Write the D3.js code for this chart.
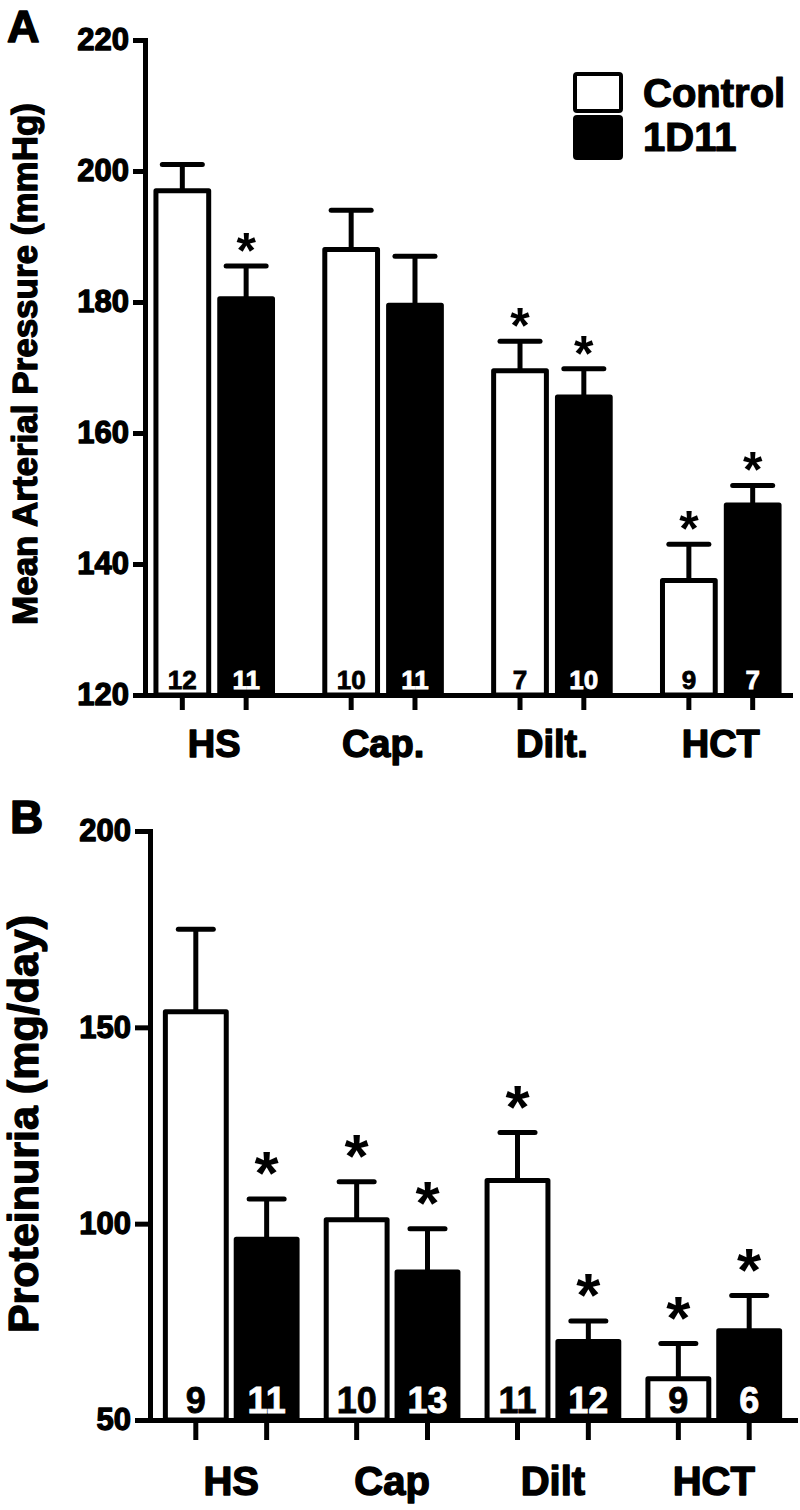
<!DOCTYPE html>
<html>
<head>
<meta charset="utf-8">
<script src="https://cdn.jsdelivr.net/npm/d3@7"></script>
<style>
  body { margin: 0; background: #fff; }
  svg { display: block; }
  text { font-family: "Liberation Sans", Arial, Helvetica, sans-serif; font-weight: bold; fill: #000; }
</style>
</head>
<body>
<div id="chart"></div>
<script>
// ---- data ----
var seriesNames = ["Control", "1D11"];

// panel A: mean arterial pressure (mmHg)
var groupsA = ["HS", "Cap.", "Dilt.", "HCT"];
var mapControl = [197, 188, 169.5, 137.5];
var mapControlSem = [4, 6, 4.5, 5.5];
var map1D11 = [180.5, 179.5, 165.5, 149];
var map1D11Sem = [5, 7.5, 4.3, 3];
var mapNControl = [12, 10, 7, 9];
var mapN1D11 = [11, 11, 10, 7];
var mapSigControl = [false, false, true, true];
var mapSig1D11 = [true, false, true, true];
var ticksA = [120, 140, 160, 180, 200, 220];

// panel B: proteinuria (mg/day)
var groupsB = ["HS", "Cap", "Dilt", "HCT"];
var protControl = [154, 101, 111, 60.5];
var protControlSem = [21, 9.7, 12.2, 9];
var prot1D11 = [96, 87.7, 70, 72.7];
var prot1D11Sem = [10.3, 11, 5.2, 9];
var protNControl = [9, 10, 11, 9];
var protN1D11 = [11, 13, 12, 6];
var protSigControl = [false, true, true, true];
var protSig1D11 = [true, true, true, true];
var ticksB = [50, 100, 150, 200];

var svg = d3.select("#chart").append("svg")
  .attr("width", 800)
  .attr("height", 1510);

function buildRows(groups, ctrl, ctrlSem, trt, trtSem, nCtrl, nTrt, sigCtrl, sigTrt) {
  var rows = [];
  groups.forEach(function(g, i) {
    rows.push({group: g, series: "Control", v: ctrl[i], sem: ctrlSem[i], n: nCtrl[i], sig: sigCtrl[i]});
    rows.push({group: g, series: "1D11", v: trt[i], sem: trtSem[i], n: nTrt[i], sig: sigTrt[i]});
  });
  return rows;
}

// heavier lettering like the original figure
function heavy(sel, color, w) {
  return sel.style("stroke", color || "#000")
    .style("stroke-width", (w || 1.2) + "px")
    .style("stroke-linejoin", "round");
}

function drawPanel(o) {
  var g = svg.append("g");
  var sw = 5;

  var y = d3.scaleLinear().domain(o.yDomain).range([o.yBottom, o.yTop]);
  var x0 = d3.scaleBand().domain(o.groups).range([o.xLeft, o.xRight])
    .paddingInner(o.padInner).paddingOuter(o.padOuter);
  var x1 = d3.scaleBand().domain(seriesNames).range([0, x0.bandwidth()])
    .paddingInner(o.subPad);

  var cx = function(d) { return x0(d.group) + x1(d.series) + x1.bandwidth() / 2; };

  // bars
  g.selectAll("rect.bar").data(o.rows).enter().append("rect")
    .attr("class", "bar")
    .attr("x", function(d) { return x0(d.group) + x1(d.series) + sw / 2; })
    .attr("width", x1.bandwidth() - sw)
    .attr("y", function(d) { return y(d.v); })
    .attr("height", function(d) { return y(o.yDomain[0]) - y(d.v); })
    .attr("fill", function(d) { return d.series === "Control" ? "#fff" : "#000"; })
    .attr("stroke", "#000")
    .attr("stroke-width", sw)
    .attr("stroke-linejoin", "round");

  // error bars (upper only)
  g.selectAll("line.err").data(o.rows).enter().append("line")
    .attr("class", "err")
    .attr("x1", cx).attr("x2", cx)
    .attr("y1", function(d) { return y(d.v); })
    .attr("y2", function(d) { return y(d.v + d.sem); })
    .attr("stroke", "#000").attr("stroke-width", sw);
  g.selectAll("line.cap").data(o.rows).enter().append("line")
    .attr("class", "cap")
    .attr("x1", function(d) { return cx(d) - o.capW / 2; })
    .attr("x2", function(d) { return cx(d) + o.capW / 2; })
    .attr("y1", function(d) { return y(d.v + d.sem); })
    .attr("y2", function(d) { return y(d.v + d.sem); })
    .attr("stroke", "#000").attr("stroke-width", sw)
    .attr("stroke-linecap", "round");

  // significance stars
  g.selectAll("text.star").data(o.rows.filter(function(d) { return d.sig; })).enter().append("text")
    .attr("class", "star")
    .attr("x", cx)
    .attr("y", function(d) { return y(d.v + d.sem) - o.starGap + o.starSize * 0.62; })
    .attr("text-anchor", "middle")
    .style("font-size", o.starSize + "px")
    .text("*");

  // n per bar
  var nt = g.selectAll("text.n").data(o.rows).enter().append("text")
    .attr("class", "n")
    .attr("x", cx)
    .attr("y", o.nBase)
    .attr("text-anchor", "middle")
    .style("font-size", o.nSize + "px")
    .style("fill", function(d) { return d.series === "Control" ? "#000" : "#fff"; })
    .text(function(d) { return d.n; });
  nt.style("stroke", function(d) { return d.series === "Control" ? "#000" : "#fff"; })
    .style("stroke-width", "0.8px");

  // y axis
  var yAxis = d3.axisLeft(y).tickValues(o.ticks).tickSize(o.tickLen).tickSizeOuter(0).tickPadding(4);
  var ya = g.append("g")
    .attr("transform", "translate(" + o.xLeft + ",0)")
    .call(yAxis);
  ya.select(".domain").attr("stroke-width", sw).attr("stroke-linecap", "square");
  ya.selectAll(".tick line").attr("stroke-width", sw);
  heavy(ya.selectAll(".tick text")
    .style("font-family", "'Liberation Sans', Arial, sans-serif")
    .style("font-weight", "bold")
    .style("font-size", o.tickSize + "px"), "#000", 1.3);

  // x axis with category labels
  var xAxis = d3.axisBottom(x0).tickSize(0).tickSizeOuter(0);
  var xa = g.append("g")
    .attr("transform", "translate(0," + o.yBottom + ")")
    .call(xAxis);
  xa.select(".domain").attr("stroke-width", sw).attr("stroke-linecap", "square");
  heavy(xa.selectAll(".tick text")
    .attr("y", o.catOffset).attr("dy", 0)
    .style("font-family", "'Liberation Sans', Arial, sans-serif")
    .style("font-weight", "bold")
    .style("font-size", o.catSize + "px"), "#000", 1.4);

  // tick marks under each bar
  g.selectAll("line.xtick").data(o.rows).enter().append("line")
    .attr("class", "xtick")
    .attr("x1", cx).attr("x2", cx)
    .attr("y1", o.yBottom).attr("y2", o.yBottom + o.xTickLen)
    .attr("stroke", "#000").attr("stroke-width", sw);

  // y title
  heavy(svg.append("text")
    .attr("transform", "translate(" + o.titleX + "," + o.titleY + ") rotate(-90)")
    .attr("text-anchor", "middle")
    .style("font-size", o.titleSize + "px")
    .text(o.title), "#000", 1.3);

  // panel letter
  heavy(svg.append("text")
    .attr("x", o.letterX).attr("y", o.letterY)
    .style("font-size", o.letterSize + "px")
    .text(o.letter), "#000", 1.5);
}

drawPanel({
  rows: buildRows(groupsA, mapControl, mapControlSem, map1D11, map1D11Sem, mapNControl, mapN1D11, mapSigControl, mapSig1D11),
  groups: groupsA, ticks: ticksA, yDomain: [120, 220],
  yTop: 40, yBottom: 695, xLeft: 145, xRight: 790,
  padInner: 0.28, padOuter: 0.05, subPad: 0.095,
  capW: 40, starGap: 29, starSize: 50,
  nBase: 689, nSize: 26,
  tickLen: 12, tickSize: 31, xTickLen: 15,
  catOffset: 62, catSize: 38,
  title: "Mean Arterial Pressure (mmHg)", titleX: 37, titleY: 364, titleSize: 35,
  letter: "A", letterX: 7, letterY: 42, letterSize: 45
});

drawPanel({
  rows: buildRows(groupsB, protControl, protControlSem, prot1D11, prot1D11Sem, protNControl, protN1D11, protSigControl, protSig1D11),
  groups: groupsB, ticks: ticksB, yDomain: [50, 200],
  yTop: 831, yBottom: 1420, xLeft: 150, xRight: 795,
  padInner: 0.15, padOuter: 0.08, subPad: 0.07,
  capW: 35, starGap: 43, starSize: 62,
  nBase: 1413, nSize: 36,
  tickLen: 15, tickSize: 31, xTickLen: 20,
  catOffset: 75, catSize: 40,
  title: "Proteinuria (mg/day)", titleX: 38, titleY: 1124, titleSize: 43,
  letter: "B", letterX: 10, letterY: 833, letterSize: 46
});

// legend (panel A)
var legend = svg.append("g");
legend.selectAll("rect").data(seriesNames).enter().append("rect")
  .attr("x", 575)
  .attr("y", function(d, i) { return 74 + i * 43; })
  .attr("width", 46)
  .attr("height", function(d, i) { return i === 0 ? 37 : 41; })
  .attr("rx", 2)
  .attr("fill", function(d, i) { return i === 0 ? "#fff" : "#000"; })
  .attr("stroke", "#000")
  .attr("stroke-width", 4);
heavy(legend.selectAll("text").data(seriesNames).enter().append("text")
  .attr("x", 643)
  .attr("y", function(d, i) { return 107 + i * 44; })
  .style("font-size", "40px")
  .text(function(d) { return d; }), "#000", 1.2);
</script>
</body>
</html>
